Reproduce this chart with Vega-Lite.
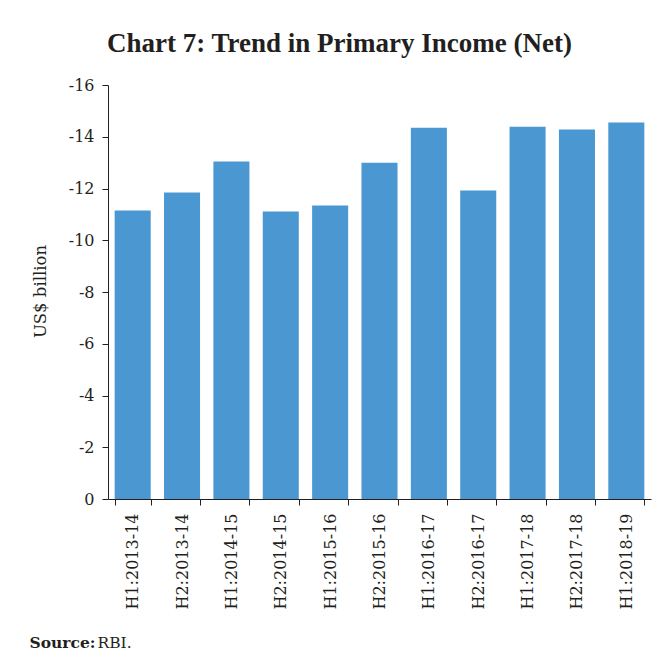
{
  "$schema": "https://vega.github.io/schema/vega-lite/v6.json",
  "width": 543,
  "height": 414,
  "autosize": "none",
  "padding": {"left": 108, "top": 85, "right": 6, "bottom": 164},
  "background": "white",
  "title": {
    "text": "Chart 7: Trend in Primary Income (Net)",
    "font": "Liberation Serif",
    "fontSize": 27,
    "fontWeight": "bold",
    "color": "#231f20",
    "anchor": "middle",
    "frame": "group",
    "dx": -40,
    "baseline": "alphabetic",
    "offset": -2
  },
  "data": {
    "values": [
      {"period": "H1:2013-14", "value": -11.15},
      {"period": "H2:2013-14", "value": -11.85},
      {"period": "H1:2014-15", "value": -13.04},
      {"period": "H2:2014-15", "value": -11.11},
      {"period": "H1:2015-16", "value": -11.34},
      {"period": "H2:2015-16", "value": -13.0},
      {"period": "H1:2016-17", "value": -14.35},
      {"period": "H2:2016-17", "value": -11.92},
      {"period": "H1:2017-18", "value": -14.39},
      {"period": "H2:2017-18", "value": -14.28},
      {"period": "H1:2018-19", "value": -14.55}
    ]
  },
  "config": {
    "view": {"stroke": null},
    "axis": {
      "domainColor": "#231f20",
      "tickColor": "#231f20",
      "labelColor": "#231f20",
      "titleColor": "#231f20",
      "grid": false,
      "labelFont": "DejaVu Serif",
      "titleFont": "DejaVu Serif",
      "labelFontSize": 16,
      "titleFontSize": 16.5,
      "titleFontWeight": "normal"
    }
  },
  "layer": [
    {
      "mark": {"type": "bar", "color": "#4b97d2"},
      "encoding": {
        "x": {
          "field": "period",
          "type": "nominal",
          "sort": null,
          "scale": {"paddingInner": 0.27, "paddingOuter": 0.135},
          "axis": {
            "orient": "bottom",
            "labelAngle": -90,
            "labelAlign": "right",
            "labelBaseline": "middle",
            "labelPadding": 8,
            "tickSize": 6,
            "tickBand": "extent",
            "title": "Source:",
            "titleFontWeight": "bold",
            "titleFontSize": 15.5,
            "titleAnchor": "start",
            "titleAlign": "left",
            "titleBaseline": "alphabetic",
            "titleX": -79,
            "titleY": 148
          }
        },
        "y": {
          "field": "value",
          "type": "quantitative",
          "scale": {"domain": [-16, 0], "reverse": true, "nice": false},
          "axis": {
            "values": [-16, -14, -12, -10, -8, -6, -4, -2, 0],
            "labelExpr": "'' + datum.value",
            "tickSize": 6,
            "labelPadding": 8,
            "title": "US$ billion",
            "titleX": -63,
            "titleY": 206,
            "titleAngle": -90,
            "titleAlign": "center",
            "titleBaseline": "alphabetic"
          }
        }
      }
    },
    {
      "mark": {"type": "rule", "opacity": 0},
      "encoding": {
        "x": {
          "field": "period",
          "type": "nominal",
          "sort": null,
          "axis": {
            "orient": "bottom",
            "labels": false,
            "ticks": false,
            "domain": false,
            "title": "RBI.",
            "titleFontSize": 15.5,
            "titleAnchor": "start",
            "titleAlign": "left",
            "titleBaseline": "alphabetic",
            "titleX": -11,
            "titleY": 148
          }
        }
      }
    }
  ],
  "resolve": {"axis": {"x": "independent"}}
}
